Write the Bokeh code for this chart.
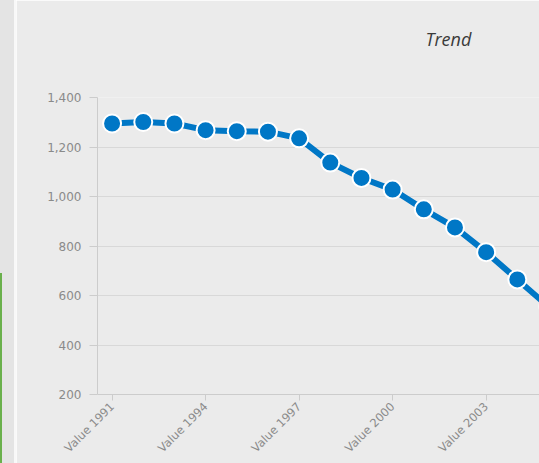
from math import pi
from bokeh.plotting import figure
from bokeh.models import FixedTicker, NumeralTickFormatter, Range1d, Div, Title
from bokeh.layouts import row
from bokeh.embed import file_html
from bokeh.resources import INLINE

# ---- data ----
years = [1991, 1992, 1993, 1994, 1995, 1996, 1997, 1998, 1999, 2000,
         2001, 2002, 2003, 2004, 2005]
values = [1295, 1301, 1295, 1268, 1264, 1262, 1235, 1137, 1075, 1028,
          948, 875, 775, 665, 555]
x_tick_years = [1991, 1994, 1997, 2000, 2003, 2006]
x_tick_labels = ["Value 1991", "Value 1994", "Value 1997", "Value 2000",
                 "Value 2003", "Value 2006"]
y_ticks = [200, 400, 600, 800, 1000, 1200, 1400]
title_text = "Trend"

BLUE = "#0077c6"
BG = "#ebebeb"

# left page strip (surrounding page chrome visible in the reference)
strip = Div(text="", width=16, height=463, margin=0, styles={
    "background": ("linear-gradient(to bottom, rgba(0,0,0,0) 273px, #6ab04c 273px) "
                   "left top / 2px 100% no-repeat, "
                   "linear-gradient(to right, #e4e4e4 14px, #f8f8f8 14px)"),
})

p = figure(width=523, height=463, output_backend="svg", toolbar_location=None,
           x_range=Range1d(1990.532, 2004.712), y_range=Range1d(200, 1400),
           min_border_left=81, min_border_top=97, min_border_bottom=66,
           min_border_right=0, margin=0)
p.background_fill_color = BG
p.border_fill_color = BG
p.outline_line_color = None

# spacer panel between the title and the plot area (drawn in background colour)
p.add_layout(Title(text=" ", text_font_size="2px", text_color=BG, standoff=41),
             "above")

# title
p.title.text = title_text
p.title.align = "left"
p.title.offset = 328
p.title.vertical_align = "top"
p.title.standoff = 0
p.title.text_font = "Open Sans"
p.title.text_font_style = "italic"
p.title.text_font_size = "18px"
p.title.text_color = "#3a3a3a"

p.xgrid.visible = False
p.ygrid.grid_line_color = "#d8d8d8"
p.ygrid.grid_line_width = 1

# y axis
p.yaxis.ticker = FixedTicker(ticks=y_ticks)
p.yaxis.formatter = NumeralTickFormatter(format="0,0")
p.yaxis.axis_line_color = "#cccccc"
p.yaxis.major_tick_line_color = "#cccccc"
p.yaxis.major_tick_out = 8
p.yaxis.major_tick_in = 0
p.yaxis.minor_tick_line_color = None
p.yaxis.major_label_text_font = "DejaVu Sans"
p.yaxis.major_label_text_font_size = "12px"
p.yaxis.major_label_text_color = "#8a8a8a"
p.yaxis.major_label_standoff = 8

# x axis
p.xaxis.ticker = FixedTicker(ticks=x_tick_years)
p.xaxis.major_label_overrides = {y: lab for y, lab in zip(x_tick_years, x_tick_labels)}
p.xaxis.major_label_orientation = pi / 4
p.xaxis.axis_line_color = "#cccccc"
p.xaxis.major_tick_line_color = "#cccccc"
p.xaxis.major_tick_out = 6
p.xaxis.major_tick_in = 0
p.xaxis.minor_tick_line_color = None
p.xaxis.major_label_text_font = "DejaVu Sans"
p.xaxis.major_label_text_font_size = "11.5px"
p.xaxis.major_label_text_color = "#8a8a8a"
p.xaxis.major_label_standoff = 4

# series
p.line(years, values, line_color=BLUE, line_width=6)
p.scatter(years, values, size=18, fill_color=BLUE, line_color="white",
          line_width=2)

layout = row(strip, p, spacing=0)
open("out.html", "w").write(file_html(layout, INLINE))
